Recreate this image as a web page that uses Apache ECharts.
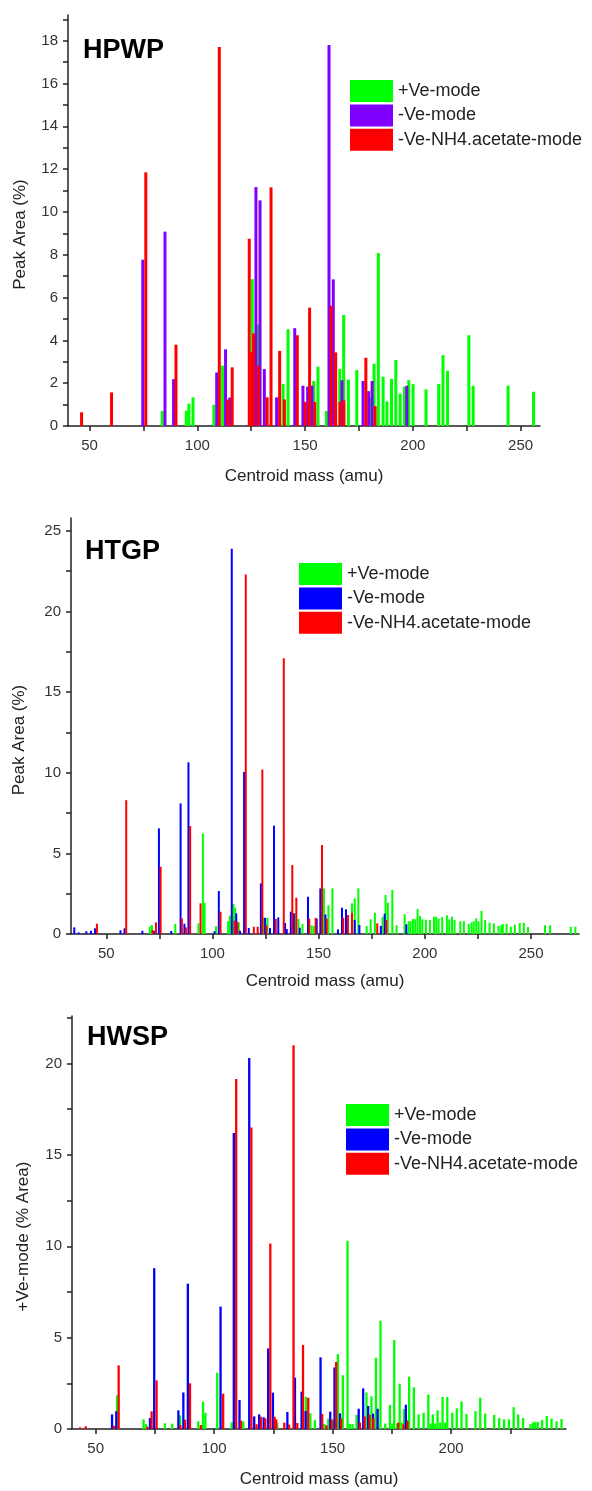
<!DOCTYPE html>
<html>
<head>
<meta charset="utf-8">
<style>
  html, body { margin: 0; padding: 0; background: #fff; }
  #chart { width: 592px; height: 1491px; }
</style>
<script src="https://cdn.jsdelivr.net/npm/echarts@6/dist/echarts.min.js"></script>
</head>
<body>
<div id="chart"></div>
<script>
// series names and panel labels
const seriesNames = ['+Ve-mode', '-Ve-mode', '-Ve-NH4.acetate-mode'];
const panelTitles = ['HPWP', 'HTGP', 'HWSP'];
const xAxisName = 'Centroid mass (amu)';
const yAxisNames = ['Peak Area (%)', 'Peak Area (%)', '+Ve-mode (% Area)'];

// tick labels
const xLabels = [50, 100, 150, 200, 250];
const xTicks = [50, 75, 100, 125, 150, 175, 200, 225, 250];
const yLabels1 = [0, 2, 4, 6, 8, 10, 12, 14, 16, 18];
const yTicks1 = [0, 1, 2, 3, 4, 5, 6, 7, 8, 9, 10, 11, 12, 13, 14, 15, 16, 17, 18, 19];
const yLabels2 = [0, 5, 10, 15, 20, 25];
const yTicks2 = [0, 2.5, 5, 7.5, 10, 12.5, 15, 17.5, 20, 22.5, 25];
const yLabels3 = [0, 5, 10, 15, 20];
const yTicks3 = [0, 2.5, 5, 7.5, 10, 12.5, 15, 17.5, 20, 22.5];

// HPWP: [mass, peak area %]
const hpwpPos = [[83.7,0.7],[94.9,0.72],[96.1,1.04],[98,1.34],[107.7,0.99],[111.7,2.82],[125.5,6.86],[128.1,4.74],
  [139.8,1.96],[142.1,4.52],[154,2.1],[156,2.77],[159.9,0.7],[166.1,2.66],[167.9,5.19],[170.1,2.17],[174,2.61],
  [180.1,1.34],[182,2.91],[184,8.08],[186.2,2.3],[188,1.15],[190.1,2.2],[192.1,3.08],[194.1,1.51],[196.1,1.84],
  [198.1,2.14],[200.1,1.96],[206.1,1.71],[212,1.96],[214,3.31],[216.1,2.58],[226,4.24],[228,1.88],[244.2,1.88],[256,1.6]];
const hpwpNeg = [[74.7,7.77],[85,9.08],[89,2.19],[109,2.5],[113.1,3.58],[115.1,1.33],[127.2,11.16],[129.1,10.54],
  [131.1,2.66],[136.8,1.34],[145.2,4.57],[149,1.88],[151.2,1.84],[153.2,1.88],[161.1,17.8],[163.1,6.85],[167.1,2.14],
  [176.9,2.1],[179.5,1.63],[181.1,2.1],[197.2,1.88]];
const hpwpAce = [[46.3,0.64],[60.2,1.57],[76.1,11.85],[90.1,3.8],[110.2,17.7],[114.2,1.24],[116.2,2.74],[124.1,8.75],
  [125.2,3.45],[126.1,4.32],[128.3,2.82],[132.4,1.34],[134.2,11.15],[138.2,3.51],[140.4,1.24],[146.4,4.24],[150.1,1.13],
  [152.1,5.53],[154.5,1.13],[162.1,5.62],[164.2,3.44],[166.2,1.13],[168,1.2],[178.2,3.19],[182.5,0.93]];

// HTGP
const htgpPos = [[70.5,0.45],[71.5,0.56],[82.5,0.62],[93.4,0.66],[95.5,6.24],[96.3,1.94],[101.7,0.48],[107.4,0.79],
  [108.2,1.14],[109.9,1.86],[110.7,1.63],[112.4,0.72],[124.2,1.01],[125.9,1.0],[138.8,1.28],[140.5,0.93],[142.4,0.62],
  [146.7,0.54],[147.7,0.5],[152.5,2.83],[154.6,1.78],[156.5,2.83],[165.7,1.9],[167,2.21],[168.7,2.83],[172.6,0.5],
  [174.5,0.91],[176.5,1.32],[180.1,1.07],[181.5,2.42],[182.6,1.94],[184.7,2.73],[186.7,0.54],[190.5,1.22],[192.4,0.79],
  [193.3,0.79],[194.4,0.93],[195.5,0.91],[196.6,1.55],[197.7,1.12],[198.8,0.91],[200.5,0.89],[202.4,0.87],[204.3,1.07],
  [205.4,1.07],[206.5,0.95],[208.2,1.05],[210.4,1.16],[211.5,0.91],[212.8,1.07],[214,0.87],[216.7,0.79],[218.4,0.79],
  [220.7,0.62],[222,0.72],[223,0.79],[224.2,0.97],[225.3,0.79],[226.7,1.43],[228.4,0.87],[230.5,0.7],[232.5,0.66],
  [234.7,0.5],[236,0.54],[236.7,0.62],[238.5,0.64],[240.5,0.45],[242.4,0.58],[244.7,0.68],[246.6,0.7],[248.6,0.43],
  [256.6,0.54],[259,0.54],[268.7,0.45],[270.9,0.45]];
const htgpNeg = [[34.95,0.41],[37,0.1],[40.6,0.17],[42.8,0.2],[44.7,0.35],[56.7,0.23],[58.6,0.35],[67,0.2],[72.4,0.2],
  [74.8,6.55],[80.6,0.19],[85,8.1],[86.8,0.64],[88.7,10.65],[101,0.17],[103,2.67],[109.1,23.9],[111.2,1.28],[113,0.2],
  [114.9,10.05],[117.1,0.37],[122.8,3.14],[124.8,1.0],[127.1,0.37],[129,6.72],[131,1.03],[134.2,0.68],[135,0.31],
  [136.9,1.38],[138.3,1.28],[141.1,0.39],[145,2.31],[149.1,0.95],[150.8,2.83],[153.2,1.22],[159.1,0.29],[161,1.63],
  [162.9,1.53],[167,0.87],[169.2,0.56],[179.3,0.5],[181.1,1.26],[191.3,0.6]];
const htgpAce = [[45.6,0.64],[59.4,8.3],[71.8,0.25],[73.4,0.72],[75.6,4.17],[85.6,0.97],[87.5,0.41],[89.5,6.7],
  [94.4,1.9],[103.8,1.38],[110.4,0.83],[111.8,0.76],[115.7,22.3],[119.5,0.45],[121.3,0.45],[123.5,10.2],[125.4,0.54],
  [129.8,0.93],[133.6,17.1],[137.6,4.28],[139.5,2.25],[145.6,0.95],[148.6,1.0],[151.6,5.52],[153.8,0.95],[161.6,1.01],
  [163.8,1.18],[165.7,1.32],[177.6,0.66],[181.9,0.87]];

// HWSP
const hwspPos = [[59,1.84],[70.2,0.53],[71.2,0.27],[79.2,0.31],[82.3,0.29],[85.6,0.75],[93.3,0.42],[95.3,1.5],
  [96.3,0.89],[101.3,3.08],[107.4,0.36],[112.3,0.42],[126.6,0.35],[138.7,1.77],[140.6,0.86],[142.5,0.49],[146.5,0.27],
  [148.2,0.57],[150.3,0.46],[152.2,4.1],[154.3,2.94],[156.3,10.3],[157.3,0.27],[158.4,0.27],[160.1,0.77],[164.3,2.0],
  [166.4,1.79],[168.3,3.9],[170.2,5.93],[172.2,0.3],[174.2,1.31],[175.2,0.3],[176,4.87],[177.2,0.3],[178.3,2.48],
  [179.1,0.35],[180.2,1.09],[181.3,0.5],[182.3,2.86],[184.3,2.28],[186.3,0.8],[188.4,0.89],[190.4,1.88],[191.4,0.3],
  [192.3,0.8],[193.3,0.3],[194.3,1.02],[195.4,0.35],[196.4,1.75],[197.4,0.35],[198.4,1.75],[200.5,0.89],[202.4,1.13],
  [204.4,1.51],[206.5,0.82],[210.3,0.98],[212.3,1.71],[214.4,0.84],[218.2,0.77],[220.3,0.6],[222.4,0.53],[224.4,0.53],
  [226.4,1.19],[228.3,0.8],[230.4,0.6],[233.5,0.27],[234.6,0.36],[235.6,0.4],[236.6,0.38],[238.4,0.49],[240.4,0.71],
  [242.4,0.57],[244.5,0.42],[246.6,0.55]];
const hwspNeg = [[56.9,0.8],[58.7,0.97],[72.9,0.6],[74.7,8.8],[84.9,1.02],[87,2.0],[88.9,7.95],[102.7,6.7],[108.3,16.2],
  [110.7,1.59],[114.8,20.3],[116.9,0.69],[119,0.8],[120.9,0.64],[122.8,4.41],[124.8,1.99],[130.9,0.93],[134.1,2.81],
  [136.9,2.04],[138.6,0.98],[144.9,3.92],[149,0.95],[150.8,3.37],[153.1,0.86],[161,1.11],[162.9,2.22],[165,1.26],
  [167.1,0.84],[169,1.11],[180.9,1.33]];
const hwspAce = [[43.4,0.09],[45.8,0.15],[57.7,0.18],[59.7,3.48],[71.8,0.13],[73.6,0.97],[75.7,2.66],[85.7,0.22],
  [87.7,0.51],[89.8,2.5],[94.4,0.22],[103.8,1.93],[109.3,19.15],[111.3,0.46],[115.7,16.5],[117.9,0.26],[119.7,0.67],
  [121.6,0.58],[123.7,10.15],[125.5,0.67],[126.2,0.53],[129.6,0.35],[131.6,0.24],[133.5,21.0],[135.1,0.33],[137.5,4.6],
  [139.7,1.71],[145.6,0.82],[147.4,0.2],[149.6,0.53],[151.5,3.67],[153.6,0.58],[161.5,0.36],[163.5,0.69],[165.6,0.78],
  [167.2,0.6],[177.7,0.35],[179.9,0.26],[181.6,0.44]];

const font = '"Liberation Sans", Arial, Helvetica, sans-serif';
const axisColor = '#222';

const panels = [
  { data: [hpwpPos, hpwpNeg, hpwpAce], colors: ['#00ff00', '#7f00ff', '#ff0000'],
    grid: { left: 68, top: 15, width: 472, height: 411 }, xMin: 40, xMax: 259, yMax: 19.2,
    yTicks: yTicks1, yLabels: yLabels1, barWidth: 3,
    xNameGap: 42, yNameGap: 39, legend: { left: 350, top: 80 }, title: { left: 83, top: 37 } },
  { data: [htgpPos, htgpNeg, htgpAce], colors: ['#00ff00', '#0000ff', '#ff0000'],
    grid: { left: 71, top: 518, width: 508, height: 416 }, xMin: 33.4, xMax: 272.6, yMax: 25.8,
    yTicks: yTicks2, yLabels: yLabels2, barWidth: 2,
    xNameGap: 39, yNameGap: 43, legend: { left: 299, top: 563 }, title: { left: 85, top: 538 } },
  { data: [hwspPos, hwspNeg, hwspAce], colors: ['#00ff00', '#0000ff', '#ff0000'],
    grid: { left: 72, top: 1016, width: 494, height: 413 }, xMin: 40, xMax: 248.5, yMax: 22.6,
    yTicks: yTicks3, yLabels: yLabels3, barWidth: 2.3,
    xNameGap: 42, yNameGap: 40, legend: { left: 346, top: 1104 }, title: { left: 87, top: 1024 } }
];

const option = {
  animation: false,
  backgroundColor: '#fff',
  textStyle: { fontFamily: font },
  title: [], legend: [], grid: [], xAxis: [], yAxis: [], series: []
};

panels.forEach((p, i) => {
  option.grid.push(p.grid);
  option.title.push({
    text: panelTitles[i], left: p.title.left, top: p.title.top, padding: 0,
    textStyle: { fontFamily: font, fontSize: 27, fontWeight: 'bold', color: '#000' }
  });
  option.legend.push({
    orient: 'vertical', left: p.legend.left, top: p.legend.top, padding: 0,
    icon: 'rect', itemWidth: 43, itemHeight: 22, itemGap: 2.4, selectedMode: false,
    textStyle: { fontFamily: font, fontSize: 18, color: '#222' },
    data: seriesNames.map((n, k) => ({ name: n, itemStyle: { color: p.colors[k] } }))
  });
  option.xAxis.push({
    gridIndex: i, type: 'value', min: p.xMin, max: p.xMax,
    name: xAxisName, nameLocation: 'middle', nameGap: p.xNameGap,
    nameTextStyle: { fontFamily: font, fontSize: 17, color: '#222' },
    axisLine: { show: true, onZero: false, lineStyle: { color: axisColor, width: 1.5 } },
    axisTick: { show: true, length: 5, customValues: xTicks, lineStyle: { color: axisColor, width: 1.5 } },
    axisLabel: { customValues: xLabels, fontFamily: font, fontSize: 15, color: '#333', margin: 12 },
    splitLine: { show: false }
  });
  option.yAxis.push({
    gridIndex: i, type: 'value', min: 0, max: p.yMax,
    name: yAxisNames[i], nameLocation: 'middle', nameGap: p.yNameGap,
    nameTextStyle: { fontFamily: font, fontSize: 17, color: '#222', padding: [0, 28, 0, 0] },
    axisLine: { show: true, lineStyle: { color: axisColor, width: 1.5 } },
    axisTick: { show: true, length: 5, customValues: p.yTicks, lineStyle: { color: axisColor, width: 1.5 } },
    axisLabel: { customValues: p.yLabels, fontFamily: font, fontSize: 15, color: '#333', margin: 10 },
    splitLine: { show: false }
  });
  seriesNames.forEach((n, k) => {
    option.series.push({
      name: n, type: 'bar', xAxisIndex: i, yAxisIndex: i,
      data: p.data[k], barWidth: p.barWidth, barGap: '-100%',
      itemStyle: { color: p.colors[k] }, silent: true
    });
  });
});

const chart = echarts.init(document.getElementById('chart'), null, { renderer: 'canvas' });
chart.setOption(option);
</script>
</body>
</html>
